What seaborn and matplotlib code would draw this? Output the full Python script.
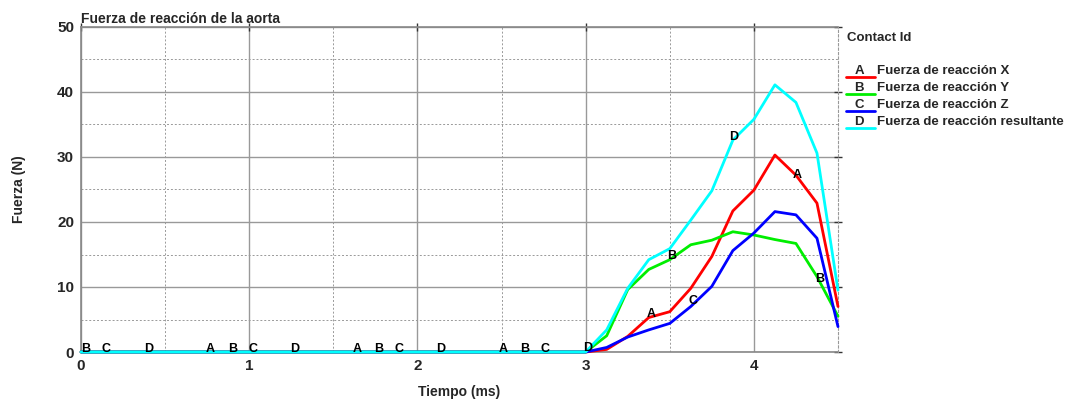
import numpy as np
import pandas as pd
import matplotlib
matplotlib.use("Agg")
import matplotlib.pyplot as plt
from matplotlib.lines import Line2D
from matplotlib.ticker import MultipleLocator
import seaborn as sns

# ---------------- data ----------------
time_ms = [0.0, 3.0, 3.125, 3.25, 3.375, 3.5, 3.625, 3.75, 3.875, 4.0, 4.125, 4.25, 4.375, 4.5]
fx = [0.0, 0.0, 0.4, 2.4, 5.3, 6.2, 9.8, 14.7, 21.7, 24.9, 30.3, 27.2, 22.9, 7.0]
fy = [0.0, 0.0, 2.5, 9.6, 12.7, 14.2, 16.5, 17.2, 18.5, 18.0, 17.3, 16.7, 11.6, 5.5]
fz = [0.0, 0.0, 0.7, 2.3, 3.4, 4.4, 7.0, 10.1, 15.6, 18.3, 21.6, 21.1, 17.5, 3.9]
fr = [0.0, 0.0, 3.4, 9.8, 14.2, 15.9, 20.3, 24.8, 32.6, 35.8, 41.1, 38.4, 30.6, 9.5]

series_names = ["Fuerza de reacción X", "Fuerza de reacción Y",
                "Fuerza de reacción Z", "Fuerza de reacción resultante"]
series_ids = ["A", "B", "C", "D"]
colors = ["#ff0000", "#00ee00", "#0000ff", "#00ffff"]

# curve-label positions (x in ms) per series id
label_x = {
    "A": [0.77, 1.64, 2.51, 3.39, 4.26],
    "B": [0.03, 0.90, 1.77, 2.64, 3.51, 4.39],
    "C": [0.15, 1.02, 1.89, 2.76, 3.64],
    "D": [0.40, 1.27, 2.14, 3.01, 3.88],
}

title = "Fuerza de reacción de la aorta"
xlabel = "Tiempo (ms)"
ylabel = "Fuerza (N)"
legend_title = "Contact Id"

# ---------------- frame ----------------
values = [fx, fy, fz, fr]
df = pd.concat([pd.DataFrame({"t": time_ms, "f": v, "serie": n})
                for v, n in zip(values, series_names)], ignore_index=True)

sns.set_style("white")
plt.rcParams["font.family"] = ["Liberation Sans", "DejaVu Sans"]

fig = plt.figure(figsize=(10.84, 4.01), dpi=100)
W, H = 1084, 401
ax = fig.add_axes([81 / W, 1 - 352 / H, (838 - 81) / W, (352 - 27) / H])

sns.lineplot(data=df, x="t", y="f", hue="serie", palette=dict(zip(series_names, colors)),
             hue_order=series_names, linewidth=2.0, ax=ax, legend=False, sort=False,
             estimator=None)
for ln in ax.get_lines():
    ln.set_clip_on(False)
    ln.set_zorder(5)

ax.set_xlim(0, 4.5)
ax.set_ylim(0, 50)
ax.xaxis.set_major_locator(MultipleLocator(1))
ax.xaxis.set_minor_locator(MultipleLocator(0.5))
ax.yaxis.set_major_locator(MultipleLocator(10))
ax.yaxis.set_minor_locator(MultipleLocator(5))
ax.grid(which="major", color="#999999", linewidth=1.0, linestyle="-")
ax.grid(which="minor", color="#999999", linewidth=0.7, linestyle=(0, (2, 2)))
ax.set_axisbelow(True)

for s in ["left", "bottom", "top"]:
    ax.spines[s].set_color("#888888")
    ax.spines[s].set_linewidth(1.2)
    ax.spines[s].set_zorder(1)
ax.spines["right"].set_color("#999999")
ax.spines["right"].set_linestyle((0, (2, 2)))
ax.spines["right"].set_linewidth(0.8)

ax.tick_params(axis="both", which="major", direction="inout", length=6, width=1,
               color="#333333", labelsize=11, pad=2, top=True, right=True)
ax.tick_params(axis="both", which="minor", length=0)
for lab in ax.get_xticklabels() + ax.get_yticklabels():
    lab.set_fontweight("bold")

ax.set_xlabel(xlabel, fontsize=10, fontweight="bold")
ax.set_ylabel(ylabel, fontsize=10, fontweight="bold")
ax.xaxis.label.set_va("center")
ax.yaxis.label.set_va("center")
ax.xaxis.set_label_coords(0.5, -(392 - 352) / 325)
ax.yaxis.set_label_coords((19 - 81) / 757, 0.5)
ax.set_title(title, fontsize=10, fontweight="bold", loc="left", pad=3)

# curve labels
for sid, vals in zip(series_ids, values):
    for x in label_x[sid]:
        y = float(np.interp(x, time_ms, vals))
        ax.text(x, y + 0.4, sid, fontsize=9, fontweight="bold", ha="center",
                va="center", color="black", zorder=10, clip_on=True)

# custom legend
fig.text(847 / W, 1 - 38 / H, legend_title, fontsize=9.5, fontweight="bold",
         ha="left", va="center")
for i, (sid, name, c) in enumerate(zip(series_ids, series_names, colors)):
    yc = 71 + i * 17
    fig.add_artist(Line2D([846 / W, 875 / W], [1 - (yc + 6) / H] * 2,
                          color=c, linewidth=2.0, transform=fig.transFigure))
    fig.text(859 / W, 1 - yc / H, sid, fontsize=9.5, fontweight="bold",
             ha="center", va="center")
    fig.text(877 / W, 1 - yc / H, name, fontsize=9.5, fontweight="bold",
             ha="left", va="center")

fig.savefig("out.png", dpi=100)
